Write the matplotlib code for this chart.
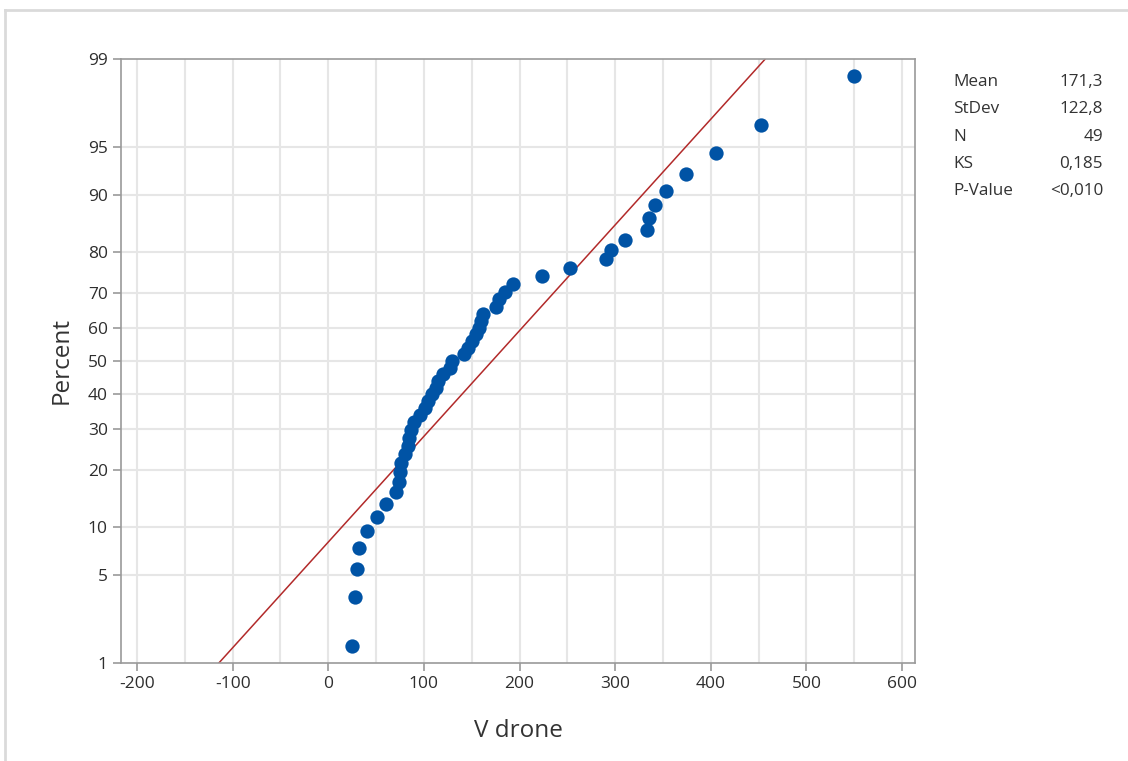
import matplotlib
matplotlib.use("Agg")
import matplotlib.pyplot as plt
from matplotlib.lines import Line2D
from statistics import NormalDist

plt.rcParams['font.family'] = ['Open Sans', 'DejaVu Sans']

# V drone sample, sorted (49 values)
v_drone = [25.1, 28.2, 30.3, 32.0, 40.8, 51.3, 59.9, 71.1, 74.1,
           75.0, 76.5, 80.0, 83.0, 84.5, 87.0, 90.0, 95.5, 101.5,
           104.0, 109.0, 113.0, 115.0, 120.0, 127.0, 129.0, 141.5, 146.0,
           150.0, 154.5, 158.0, 159.5, 161.5, 175.0, 179.0, 184.5, 193.5,
           224.0, 252.4, 290.1, 296.0, 310.7, 333.0, 335.4, 341.6, 353.6,
           374.5, 405.4, 452.5, 549.5]

mean = 171.3
stdev = 122.8
n = 49
ks = "0,185"
p_value = "<0,010"

pct_ticks = [1, 5, 10, 20, 30, 40, 50, 60, 70, 80, 90, 95, 99]
x_ticks = [-200, -100, 0, 100, 200, 300, 400, 500, 600]
x_grid = list(range(-200, 601, 50))

nd = NormalDist()
def z(p):
    return nd.inv_cdf(p / 100.0)

# median ranks (Benard) on normal probability scale
ranks = [(i - 0.3) / (n + 0.4) * 100 for i in range(1, n + 1)]
yz = [z(p) for p in ranks]

fig = plt.figure(figsize=(11.28, 7.61), dpi=100)
ax = fig.add_axes([0.1073, 0.1288, 0.7039, 0.7937])

grid_c = '#e6e6e6'
for gx in x_grid:
    ax.axvline(gx, color=grid_c, lw=1.5, zorder=0)
for p in pct_ticks[1:-1]:
    ax.axhline(z(p), color=grid_c, lw=1.5, zorder=0)

# fitted normal line from mean/stdev
line_p = [1, 99]
line_x = [mean + stdev * z(p) for p in line_p]
ax.plot(line_x, [z(p) for p in line_p], color='#b22a2a', lw=1.1, zorder=2)

ax.plot(v_drone, yz, 'o', color='#0053a5', markersize=10.3, markeredgewidth=0, zorder=3)

ax.set_xlim(-216.7, 613.6)
ax.set_ylim(z(1), z(99))
ax.set_xticks(x_ticks)
ax.set_xticklabels([str(t) for t in x_ticks])
ax.set_yticks([z(p) for p in pct_ticks])
ax.set_yticklabels([str(p) for p in pct_ticks])

for s in ax.spines.values():
    s.set_color('#9a9a9a')
    s.set_linewidth(1.2)
ax.tick_params(colors='#9a9a9a', labelcolor='#2e2e2e', labelsize=12.5, length=6, width=1.2)

ax.set_xlabel('V drone', fontsize=17.5, color='#333333', labelpad=19)
ax.set_ylabel('Percent', fontsize=17.5, color='#333333', labelpad=10)

# stats box
rows = [('Mean', '171,3'), ('StDev', '122,8'), ('N', str(n)), ('KS', ks), ('P-Value', p_value)]
for k, (lab, val) in enumerate(rows):
    yy = 1 - (82 + k * 27.3) / 761
    fig.text(953 / 1128, yy, lab, fontsize=12.3, color='#333333', va='center', ha='left')
    fig.text(1103 / 1128, yy, val, fontsize=12.3, color='#333333', va='center', ha='right')

# panel border (top and left)
fig.add_artist(Line2D([5 / 1128, 1], [1 - 10 / 761, 1 - 10 / 761], color='#dadada', lw=2, transform=fig.transFigure))
fig.add_artist(Line2D([5 / 1128, 5 / 1128], [0, 1 - 10 / 761], color='#dadada', lw=2, transform=fig.transFigure))

fig.savefig('out.png', dpi=100)
